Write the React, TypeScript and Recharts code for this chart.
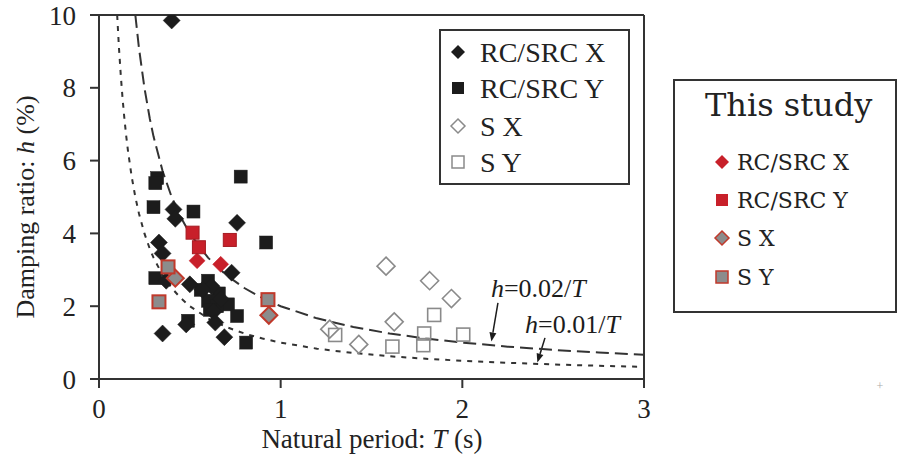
import React from 'react';
import {
  ScatterChart,
  Scatter,
  XAxis,
  YAxis,
  ReferenceLine
} from 'recharts';

// ---------------------------------------------------------------------------
// Data: natural period T (s) vs damping ratio h (%)
// ---------------------------------------------------------------------------

// Previous records
const RC_X_PREV = [
  { T: 0.4, h: 9.85 }, { T: 0.41, h: 4.66 }, { T: 0.42, h: 4.4 }, { T: 0.76, h: 4.29 },
  { T: 0.33, h: 3.75 }, { T: 0.35, h: 3.45 }, { T: 0.73, h: 2.92 }, { T: 0.37, h: 2.7 },
  { T: 0.5, h: 2.6 }, { T: 0.62, h: 2.55 }, { T: 0.57, h: 2.45 }, { T: 0.67, h: 2.2 },
  { T: 0.63, h: 1.85 }, { T: 0.48, h: 1.5 }, { T: 0.64, h: 1.55 }, { T: 0.35, h: 1.25 },
  { T: 0.69, h: 1.15 }
];
const RC_Y_PREV = [
  { T: 0.32, h: 5.52 }, { T: 0.31, h: 5.38 }, { T: 0.78, h: 5.56 }, { T: 0.3, h: 4.72 },
  { T: 0.52, h: 4.6 }, { T: 0.92, h: 3.75 }, { T: 0.31, h: 2.77 }, { T: 0.6, h: 2.7 },
  { T: 0.56, h: 2.45 }, { T: 0.66, h: 2.35 }, { T: 0.6, h: 2.15 }, { T: 0.71, h: 2.05 },
  { T: 0.65, h: 2.0 }, { T: 0.61, h: 1.9 }, { T: 0.76, h: 1.73 }, { T: 0.49, h: 1.6 },
  { T: 0.81, h: 1.0 }
];
const S_X_PREV = [
  { T: 1.58, h: 3.1 }, { T: 1.82, h: 2.7 }, { T: 1.94, h: 2.21 }, { T: 1.625, h: 1.57 },
  { T: 1.27, h: 1.37 }, { T: 1.43, h: 0.95 }
];
const S_Y_PREV = [
  { T: 1.845, h: 1.76 }, { T: 1.79, h: 1.25 }, { T: 2.005, h: 1.22 }, { T: 1.3, h: 1.21 },
  { T: 1.615, h: 0.89 }, { T: 1.785, h: 0.93 }
];

// This study
const RC_X_STUDY = [{ T: 0.54, h: 3.25 }, { T: 0.67, h: 3.15 }];
const RC_Y_STUDY = [{ T: 0.515, h: 4.02 }, { T: 0.55, h: 3.62 }, { T: 0.72, h: 3.82 }];
const S_X_STUDY = [{ T: 0.42, h: 2.77 }, { T: 0.935, h: 1.75 }];
const S_Y_STUDY = [{ T: 0.38, h: 3.08 }, { T: 0.33, h: 2.12 }, { T: 0.93, h: 2.18 }];

// Reference curves h = c / T (c in %·s)
const CURVE_T = [
  0.1, 0.11, 0.12, 0.13, 0.14, 0.15, 0.16, 0.18, 0.2, 0.22, 0.25, 0.28, 0.3, 0.35,
  0.4, 0.45, 0.5, 0.6, 0.7, 0.8, 0.9, 1, 1.2, 1.4, 1.6, 1.8, 2, 2.25, 2.5, 2.75, 3
];
const COEF_UPPER = 2; // h = 0.02/T
const COEF_LOWER = 1; // h = 0.01/T

const X_TICKS = [0, 1, 2, 3];
const Y_TICKS = [0, 2, 4, 6, 8, 10];

const curve = (c: number) =>
  CURVE_T.filter((t) => c / t <= 10 + 1e-9).map((t) => ({ T: t, h: c / t }));

// ---------------------------------------------------------------------------
// Styling
// ---------------------------------------------------------------------------

const INK = '#1c1c1c';
const AXIS = '#333';
const RED = '#c8202a';
const RED_EDGE = '#c0392b';
const GRAY = '#8c8c8c';
const OPEN = '#8a8a8a';
const SERIF = '"Liberation Serif", "Times New Roman", serif';
const SERIF2 = '"DejaVu Serif", serif';

type Kind = 'diamond' | 'square';

const marker = (kind: Kind, size: number, fill: string, stroke: string, sw: number) =>
  (props: any) => {
    const { cx, cy } = props;
    if (cx == null || cy == null) return <g />;
    if (kind === 'diamond') {
      const r = size / 2;
      return (
        <polygon
          points={`${cx},${cy - r} ${cx + r},${cy} ${cx},${cy + r} ${cx - r},${cy}`}
          fill={fill}
          stroke={stroke}
          strokeWidth={sw}
        />
      );
    }
    return (
      <rect
        x={cx - size / 2}
        y={cy - size / 2}
        width={size}
        height={size}
        fill={fill}
        stroke={stroke}
        strokeWidth={sw}
      />
    );
  };

const noMarker = () => <g />;

// Arrow with its formula text, placed in data coordinates
const arrowNote = (coef: string, dx: number, dy: number) => (props: any) => {
  const { x1, y1, x2, y2 } = props;
  const ang = Math.atan2(y2 - y1, x2 - x1);
  const len = 9;
  const w = 3.5;
  const bx = x2 - len * Math.cos(ang);
  const by = y2 - len * Math.sin(ang);
  const px = -Math.sin(ang) * w;
  const py = Math.cos(ang) * w;
  return (
    <g>
      <line x1={x1} y1={y1} x2={bx} y2={by} stroke={INK} strokeWidth={1.5} />
      <polygon
        points={`${x2},${y2} ${bx + px},${by + py} ${bx - px},${by - py}`}
        fill={INK}
      />
      <text x={x1 + dx} y={y1 + dy} fontFamily={SERIF} fontSize={26} fill={INK}>
        <tspan fontStyle="italic">h</tspan>={coef}/<tspan fontStyle="italic">T</tspan>
      </text>
    </g>
  );
};

const tickStyle = { fontFamily: SERIF, fontSize: 27, fill: '#222' };
const lineStyle = { stroke: AXIS, strokeWidth: 2 };

export default function App() {
  return (
    <div style={{ position: 'absolute', left: 0, top: 0, width: 901, height: 459, background: '#fff' }}>
      <ScatterChart
        width={901}
        height={459}
        margin={{ top: 14, right: 256, bottom: 79, left: 98 }}
      >
        <XAxis
          type="number"
          dataKey="T"
          domain={[0, 3]}
          ticks={X_TICKS}
          height={1}
          tickSize={9}
          tickMargin={11}
          axisLine={lineStyle}
          tickLine={lineStyle}
          tick={tickStyle}
          allowDataOverflow
        />
        <XAxis
          xAxisId="top"
          orientation="top"
          type="number"
          dataKey="T"
          domain={[0, 3]}
          ticks={X_TICKS}
          height={1}
          tickSize={9}
          axisLine={lineStyle}
          tickLine={lineStyle}
          tickFormatter={() => ''}
        />
        <YAxis
          type="number"
          dataKey="h"
          domain={[0, 10]}
          ticks={Y_TICKS}
          width={1}
          tickSize={9}
          tickMargin={14}
          axisLine={lineStyle}
          tickLine={lineStyle}
          tick={tickStyle}
          allowDataOverflow
        />
        <YAxis
          yAxisId="right"
          orientation="right"
          type="number"
          dataKey="h"
          domain={[0, 10]}
          ticks={Y_TICKS}
          width={1}
          tickSize={9}
          axisLine={lineStyle}
          tickLine={lineStyle}
          tickFormatter={() => ''}
        />

        {/* h = 0.02/T and h = 0.01/T */}
        <Scatter
          data={curve(COEF_UPPER)}
          line={{ stroke: '#333', strokeWidth: 2, strokeDasharray: '13 6' }}
          lineType="joint"
          shape={noMarker}
          isAnimationActive={false}
        />
        <Scatter
          data={curve(COEF_LOWER)}
          line={{ stroke: '#333', strokeWidth: 2, strokeDasharray: '5 6' }}
          lineType="joint"
          shape={noMarker}
          isAnimationActive={false}
        />

        {/* Previous records */}
        <Scatter data={S_X_PREV} shape={marker('diamond', 18, 'none', OPEN, 1.6)} isAnimationActive={false} />
        <Scatter data={S_Y_PREV} shape={marker('square', 13, 'none', OPEN, 1.6)} isAnimationActive={false} />
        <Scatter data={RC_Y_PREV} shape={marker('square', 13, INK, INK, 0.5)} isAnimationActive={false} />
        <Scatter data={RC_X_PREV} shape={marker('diamond', 17, INK, INK, 0.5)} isAnimationActive={false} />

        {/* This study */}
        <Scatter data={RC_X_STUDY} shape={marker('diamond', 16, RED, RED, 0.5)} isAnimationActive={false} />
        <Scatter data={RC_Y_STUDY} shape={marker('square', 13, RED, '#a51c22', 1)} isAnimationActive={false} />
        <Scatter data={S_X_STUDY} shape={marker('diamond', 17, GRAY, RED_EDGE, 2)} isAnimationActive={false} />
        <Scatter data={S_Y_STUDY} shape={marker('square', 13, GRAY, RED_EDGE, 2)} isAnimationActive={false} />

        <ReferenceLine
          segment={[{ x: 2.196, y: 2.09 }, { x: 2.16, y: 1.03 }]}
          shape={arrowNote('0.02', -7, -6)}
        />
        <ReferenceLine
          segment={[{ x: 2.455, y: 1.13 }, { x: 2.413, y: 0.45 }]}
          shape={arrowNote('0.01', -20, -5)}
        />
      </ScatterChart>

      <svg
        width={901}
        height={459}
        style={{ position: 'absolute', left: 0, top: 0, pointerEvents: 'none' }}
      >
        {/* Axis titles */}
        <text
          transform="translate(25,207) rotate(-90)"
          textAnchor="middle"
          dominantBaseline="central"
          fontFamily={SERIF}
          fontSize={26}
          fill="#222"
        >
          Damping ratio: <tspan fontStyle="italic">h</tspan> (%)
        </text>
        <text x={372} y={448} textAnchor="middle" fontFamily={SERIF} fontSize={27} fill="#222">
          Natural period: <tspan fontStyle="italic">T</tspan> (s)
        </text>

        {/* Legend: previous records */}
        <rect x={440} y={30} width={189} height={154} fill="#fff" stroke={AXIS} strokeWidth={2} />
        <g fontFamily={SERIF} fontSize={28} fill="#222">
          <polygon points="458,45 465,52 458,59 451,52" fill={INK} />
          <text x={480} y={52} dominantBaseline="central">RC/SRC X</text>
          <rect x={452} y={82} width={12} height={12} fill={INK} />
          <text x={480} y={88} dominantBaseline="central">RC/SRC Y</text>
          <polygon points="458,119 465,126 458,133 451,126" fill="none" stroke={OPEN} strokeWidth={1.5} />
          <text x={480} y={126} dominantBaseline="central">S X</text>
          <rect x={452} y={156} width={12} height={12} fill="none" stroke={OPEN} strokeWidth={1.5} />
          <text x={480} y={162} dominantBaseline="central">S Y</text>
        </g>

        {/* Legend: this study */}
        <rect x={674} y={80} width={222} height={232} fill="#fff" stroke={AXIS} strokeWidth={2} />
        <text x={705} y={105} dominantBaseline="central" fontFamily={SERIF2} fontSize={32} fill="#222">
          This study
        </text>
        <g fontFamily={SERIF2} fontSize={22} fill="#222">
          <polygon points="722,155 729,162 722,169 715,162" fill={RED} />
          <text x={737} y={162} dominantBaseline="central">RC/SRC X</text>
          <rect x={716} y={194} width={12} height={12} fill={RED} />
          <text x={737} y={200} dominantBaseline="central">RC/SRC Y</text>
          <polygon points="722,231 729,238 722,245 715,238" fill={GRAY} stroke={RED_EDGE} strokeWidth={1.5} />
          <text x={737} y={238} dominantBaseline="central">S X</text>
          <rect x={716} y={271} width={12} height={12} fill={GRAY} stroke={RED_EDGE} strokeWidth={1.5} />
          <text x={737} y={277} dominantBaseline="central">S Y</text>
        </g>

        <text x={880} y={390} textAnchor="middle" fontFamily={SERIF} fontSize={12} fill="#aaa">+</text>
      </svg>
    </div>
  );
}
